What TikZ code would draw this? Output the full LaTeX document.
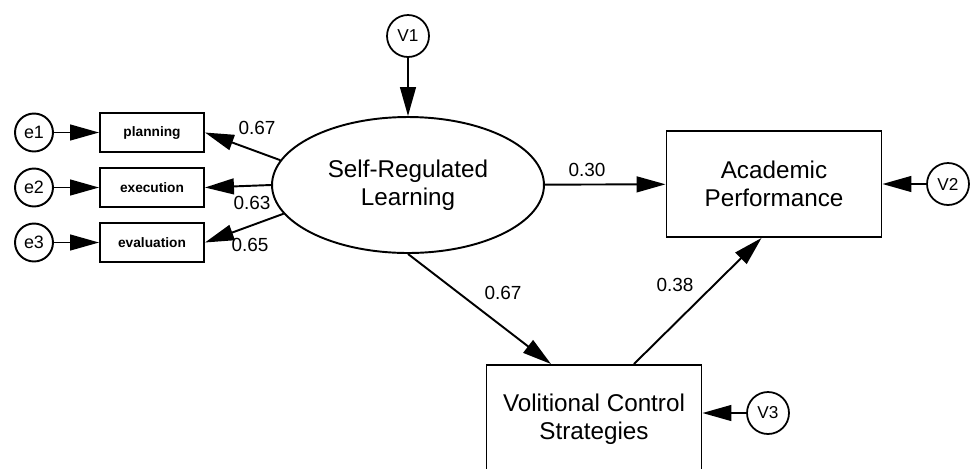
\documentclass[tikz,border=0pt]{standalone}
\usepackage{fontspec}
\setmainfont{Liberation Sans}
\usetikzlibrary{shapes.geometric,arrows.meta}

\tikzset{
  obs/.style={draw,line width=1.1pt,rectangle,inner sep=0pt,align=center,
    font=\fontsize{13.8}{16}\selectfont},
  item/.style={draw,line width=1.1pt,rectangle,inner sep=0pt,
    minimum width=2.08cm,minimum height=0.78cm,font=\fontsize{7.8}{9}\selectfont\bfseries},
  err/.style={draw,line width=1.1pt,circle,inner sep=0pt,
    minimum size=0.76cm,font=\fontsize{10.2}{11}\selectfont},
  res/.style={draw,line width=1pt,circle,inner sep=0pt,
    minimum size=0.84cm,font=\fontsize{9.8}{11}\selectfont},
  arr/.style={line width=1.1pt,-{Triangle[length=16.5pt,width=9pt]}},
  coef/.style={inner sep=0pt,font=\fontsize{10.8}{12}\selectfont},
}

\begin{document}
\begin{tikzpicture}[x=0.02cm,y=-0.02cm]
  %\draw[help lines] (0,0) grid[xstep=50,ystep=50] (971,468);
  \clip (0,0) rectangle (971,468);

  \node[draw,line width=1.1pt,ellipse,inner sep=0pt,minimum width=5.44cm,
    minimum height=2.72cm,align=center,font=\fontsize{13.8}{16}\selectfont]
    (srl) at (408,185) {Self-Regulated\\Learning};
  \node[obs,minimum width=4.3cm,minimum height=2.12cm] (ap) at (774,184)
    {Academic\\Performance};
  \node[obs,minimum width=4.3cm,minimum height=2.16cm] (vcs) at (594,419)
    {Volitional Control\\Strategies};

  \node[item] (plan) at (152,132.5) {planning};
  \node[item] (exec) at (152,187.5) {execution};
  \node[item] (eval) at (152,242.5) {evaluation};

  \node[err] (e1) at (34,132.5) {e1};
  \node[err] (e2) at (34,187.5) {e2};
  \node[err] (e3) at (34,242.5) {e3};

  \node[res] (v1) at (408,36) {V1};
  \node[res] (v2) at (948,184) {V2};
  \node[res] (v3) at (768,413) {V3};

  \draw[arr] (e1) -- (plan);
  \draw[arr] (e2) -- (exec);
  \draw[arr] (e3) -- (eval);
  \draw[arr] (srl.169) -- (plan.east);
  \draw[arr] (srl.west) -- (exec.east);
  \draw[arr] (srl.193) -- (eval.east);

  \draw[arr] (v1) -- (srl);
  \draw[arr] (v2) -- (ap);
  \draw[arr] (v3.west) -- (v3 -| vcs.east);

  \draw[arr] (srl) -- (ap);
  \draw[arr] (srl.south) -- (vcs.128);
  \draw[arr] (vcs.54) -- (ap.257);

  \node[coef] (l1) at (257,128) {0.67};
  \node[coef] (l2) at (252,203) {0.63};
  \node[coef] (l3) at (250,245) {0.65};
  \node[coef] (l4) at (587,170) {0.30};
  \node[coef] (l5) at (503,293) {0.67};
  \node[coef] (l6) at (675,285) {0.38};
\end{tikzpicture}
\end{document}
